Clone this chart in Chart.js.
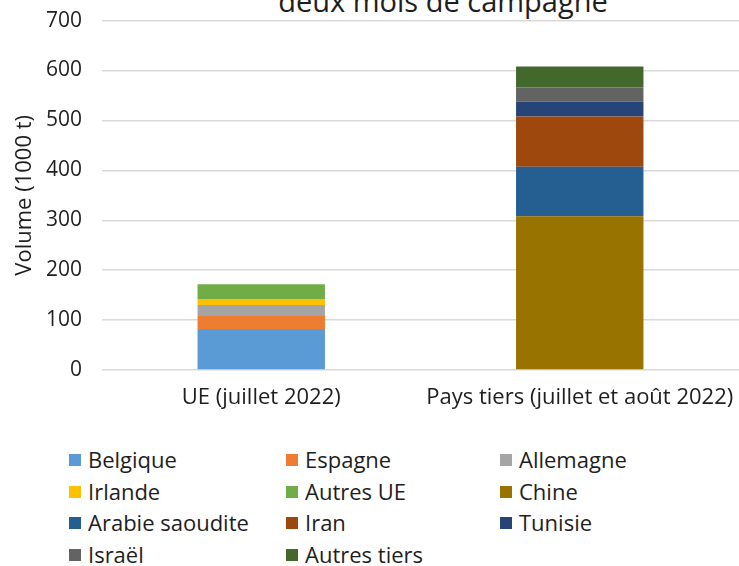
<!DOCTYPE html>
<html lang="fr">
<head>
<meta charset="utf-8">
<title>Exportations de blé</title>
<script src="https://cdn.jsdelivr.net/npm/chart.js@4/dist/chart.umd.min.js"></script>
<style>
  html, body { margin: 0; padding: 0; background: #fff; }
  body { width: 739px; height: 566px; overflow: hidden; position: relative;
         font-family: "Open Sans", sans-serif; color: #1e1e1e; }
  #title { position: absolute; top: -16px; left: 0; width: 886px; text-align: center;
           font-size: 29px; line-height: 34px; white-space: nowrap; }
  #wrap { position: absolute; top: -12px; left: 0; width: 739px; height: 440px; }
  #legend { position: absolute; top: 444px; left: 69px; display: grid;
            grid-template-columns: 217px 214px 200px; font-size: 22px; line-height: 31.7px; }
  .item { display: flex; align-items: center; white-space: nowrap; }
  .box { width: 12px; height: 12px; margin-right: 7px; flex: none; }
</style>
</head>
<body>
<div id="title">deux mois de campagne</div>
<div id="wrap"><canvas id="chart"></canvas></div>
<div id="legend"></div>
<script>
// Destinations and volumes exported (thousand tonnes)
const categories = ['UE (juillet 2022)', 'Pays tiers (juillet et août 2022)'];
const ueOrigins = ['Belgique', 'Espagne', 'Allemagne', 'Irlande', 'Autres UE'];
const ueVolumes = [82, 26, 22, 12, 30];
const tiersOrigins = ['Chine', 'Arabie saoudite', 'Iran', 'Tunisie', 'Israël', 'Autres tiers'];
const tiersVolumes = [308, 99, 101, 30, 28, 42];
const yTicks = [0, 100, 200, 300, 400, 500, 600, 700];

const ueColors = ['#5B9BD5', '#ED7D31', '#A5A5A5', '#FFC000', '#70AD47'];
const tiersColors = ['#997300', '#255E91', '#9E480E', '#264478', '#636363', '#43682B'];

const datasets = [];
ueOrigins.forEach((name, i) => datasets.push({
  label: name, data: [ueVolumes[i], null], backgroundColor: ueColors[i]
}));
tiersOrigins.forEach((name, i) => datasets.push({
  label: name, data: [null, tiersVolumes[i]], backgroundColor: tiersColors[i]
}));

const family = '"Open Sans", sans-serif';
const textColor = '#1e1e1e';

const chart = new Chart(document.getElementById('chart'), {
  type: 'bar',
  data: { labels: categories, datasets },
  options: {
    responsive: true,
    maintainAspectRatio: false,
    animation: false,
    layout: { padding: { top: 9, left: 12, right: 0, bottom: 18 } },
    datasets: { bar: { categoryPercentage: 1, barPercentage: 0.4, borderWidth: 0 } },
    plugins: { legend: { display: false }, tooltip: { enabled: false } },
    scales: {
      x: {
        stacked: true,
        grid: { display: false, drawTicks: true, tickLength: 15 },
        border: { display: false },
        ticks: { font: { family, size: 22 }, color: textColor, padding: 0, maxRotation: 0 },
        afterFit: s => { s.height = 40; }
      },
      y: {
        stacked: true,
        min: 0, max: 700,
        afterBuildTicks: s => { s.ticks = yTicks.map(v => ({ value: v })); },
        grid: { color: '#d9d9d9', lineWidth: 1.5, drawTicks: false },
        border: { display: false },
        ticks: { font: { family, size: 21 }, color: textColor, padding: 20 },
        title: { display: true, text: 'Volume (1000 t)', font: { family, size: 22 }, color: textColor,
                 padding: { top: 0, bottom: 0 } },
        afterFit: s => { s.width = 90; }
      }
    }
  }
});

// Legend laid out in three columns
const legend = document.getElementById('legend');
chart.data.datasets.forEach(ds => {
  const item = document.createElement('div');
  item.className = 'item';
  const box = document.createElement('span');
  box.className = 'box';
  box.style.background = ds.backgroundColor;
  const txt = document.createElement('span');
  txt.textContent = ds.label;
  item.appendChild(box);
  item.appendChild(txt);
  legend.appendChild(item);
});
</script>
</body>
</html>
